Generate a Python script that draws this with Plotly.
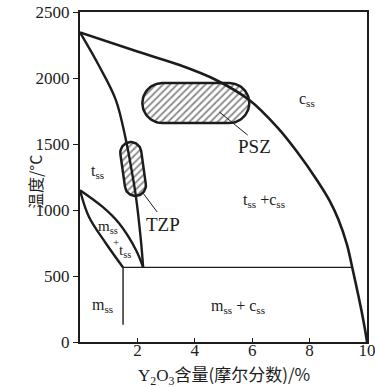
import numpy as np
import plotly.graph_objects as go

# ---- data ----
cubic_x = [0, 2, 3.47, 4.74, 5.9, 6.9, 7.6, 8.2, 8.7, 9.0, 9.3, 9.48, 9.7, 9.85, 9.95, 10]
cubic_T = [2345, 2200, 2098, 1985, 1833, 1620, 1430, 1245, 1070, 930, 740, 570, 350, 190, 70, 0]

tetra_x = [0, 0.68, 1.25, 1.6, 1.8, 1.95, 2.12, 2.2]
tetra_T = [2345, 2085, 1833, 1530, 1300, 1100, 775, 565]

lens_up_x = [0, 0.78, 1.36, 1.95, 2.2]
lens_up_T = [1150, 1025, 899, 697, 565]
lens_lo_x = [0, 0.31, 0.9, 1.5]
lens_lo_T = [1150, 949, 748, 565]

eutectoid_x = [1.5, 9.48]
eutectoid_T = [565, 565]
vert_x = [1.5, 1.5]
vert_T = [565, 130]

psz_axis_x = [2.87, 5.2]
psz_axis_T = [1810, 1810]
tzp_axis_x = [1.77, 1.93]
tzp_axis_T = [1435, 1186]

tzp_leader_x = [2.17, 2.69]
tzp_leader_T = [1136, 985]
psz_leader_x = [4.86, 5.84]
psz_leader_T = [1742, 1568]

x_ticks = [2, 4, 6, 8, 10]
y_ticks = [0, 500, 1000, 1500, 2000, 2500]

# ---- layout geometry ----
W, H = 375, 388
ML, MR, MT, MB = 80, 8, 12, 46
SX = (W - ML - MR) / 10.0
SY = (H - MT - MB) / 2500.0
INK = "#1c1c1c"
SERIF = "Liberation Serif, Times New Roman, serif"
CJK = "Noto Sans CJK SC"


def capsule(ax, aT, r_px, n=40):
    p0 = np.array([ax[0] * SX, aT[0] * SY])
    p1 = np.array([ax[1] * SX, aT[1] * SY])
    d = p1 - p0
    ang = np.arctan2(d[1], d[0])
    a1 = np.linspace(ang - np.pi / 2, ang + np.pi / 2, n)
    a0 = np.linspace(ang + np.pi / 2, ang + 3 * np.pi / 2, n)
    pts = np.concatenate([
        np.c_[p1[0] + r_px * np.cos(a1), p1[1] + r_px * np.sin(a1)],
        np.c_[p0[0] + r_px * np.cos(a0), p0[1] + r_px * np.sin(a0)],
    ])
    pts = np.vstack([pts, pts[:1]])
    return pts[:, 0] / SX, pts[:, 1] / SY


fig = go.Figure()

hatch = dict(shape="/", size=5, solidity=0.38, fgcolor=INK, bgcolor="white", fillmode="overlay")
for ax, aT, r in [(psz_axis_x, psz_axis_T, 20), (tzp_axis_x, tzp_axis_T, 10.5)]:
    cx, cT = capsule(ax, aT, r)
    fig.add_trace(go.Scatter(x=cx, y=cT, mode="lines", fill="toself",
                             fillcolor="white", fillpattern=hatch,
                             line=dict(color=INK, width=2.5), hoverinfo="skip"))

def line(x, y, w, shape="spline"):
    fig.add_trace(go.Scatter(x=x, y=y, mode="lines",
                             line=dict(color=INK, width=w, shape=shape, smoothing=1.0),
                             hoverinfo="skip"))

line(cubic_x, cubic_T, 2.6)
line(tetra_x, tetra_T, 2.4)
line(lens_up_x, lens_up_T, 2.4)
line(lens_lo_x, lens_lo_T, 2.4)
line(eutectoid_x, eutectoid_T, 1.4, "linear")
line(vert_x, vert_T, 1.4, "linear")
line(tzp_leader_x, tzp_leader_T, 1.0, "linear")
line(psz_leader_x, psz_leader_T, 1.0, "linear")


def label(x, y, text, size=16, font=SERIF):
    fig.add_annotation(x=x, y=y, text=text, showarrow=False, xref="x", yref="y",
                       font=dict(family=font, size=size, color=INK))

label(7.9, 1840, "c<sub>ss</sub>")
label(0.62, 1290, "t<sub>ss</sub>")
label(6.4, 1070, "t<sub>ss</sub> +c<sub>ss</sub>")
label(5.5, 270, "m<sub>ss</sub> + c<sub>ss</sub>")
label(0.78, 280, "m<sub>ss</sub>")
label(0.98, 872, "m<sub>ss</sub>", 15)
label(1.26, 758, "+", 11)
label(1.57, 690, "t<sub>ss</sub>", 15)
label(2.88, 890, "TZP", 19)
label(6.08, 1480, "PSZ", 19)

fig.add_annotation(x=0.5, y=0, xref="paper", yref="paper", yshift=-32, yanchor="middle",
                   text="<span style='font-family:Liberation Serif'>Y<sub>2</sub>O<sub>3</sub></span>含量(摩尔分数)/%",
                   showarrow=False, font=dict(family=CJK, size=17, color=INK))
fig.add_annotation(x=0, y=0.485, xref="paper", yref="paper", xshift=-59,
                   text="温度/°C", textangle=-90, showarrow=False,
                   font=dict(family=CJK, size=16, color=INK))

axis_common = dict(tickcolor=INK, showgrid=False, zeroline=False, showline=True,
                   linecolor=INK, linewidth=2, mirror=True, automargin=False,
                   ticklabeloverflow="allow",
                   tickfont=dict(family=SERIF, size=17, color=INK), fixedrange=True)
fig.update_layout(
    width=W, height=H, margin=dict(l=ML, r=MR, t=MT, b=MB, autoexpand=False),
    paper_bgcolor="white", plot_bgcolor="white", showlegend=False,
    xaxis=dict(range=[0, 10], tickvals=x_ticks, ticks="inside", ticklen=4,
               ticklabelstandoff=-8, **axis_common),
    yaxis=dict(range=[0, 2500], tickvals=y_ticks, ticks="outside", ticklen=5, **axis_common),
)

fig.write_html("out.html", config={"displayModeBar": False},
               post_script="document.body.style.margin='0';document.body.style.overflow='hidden';")
